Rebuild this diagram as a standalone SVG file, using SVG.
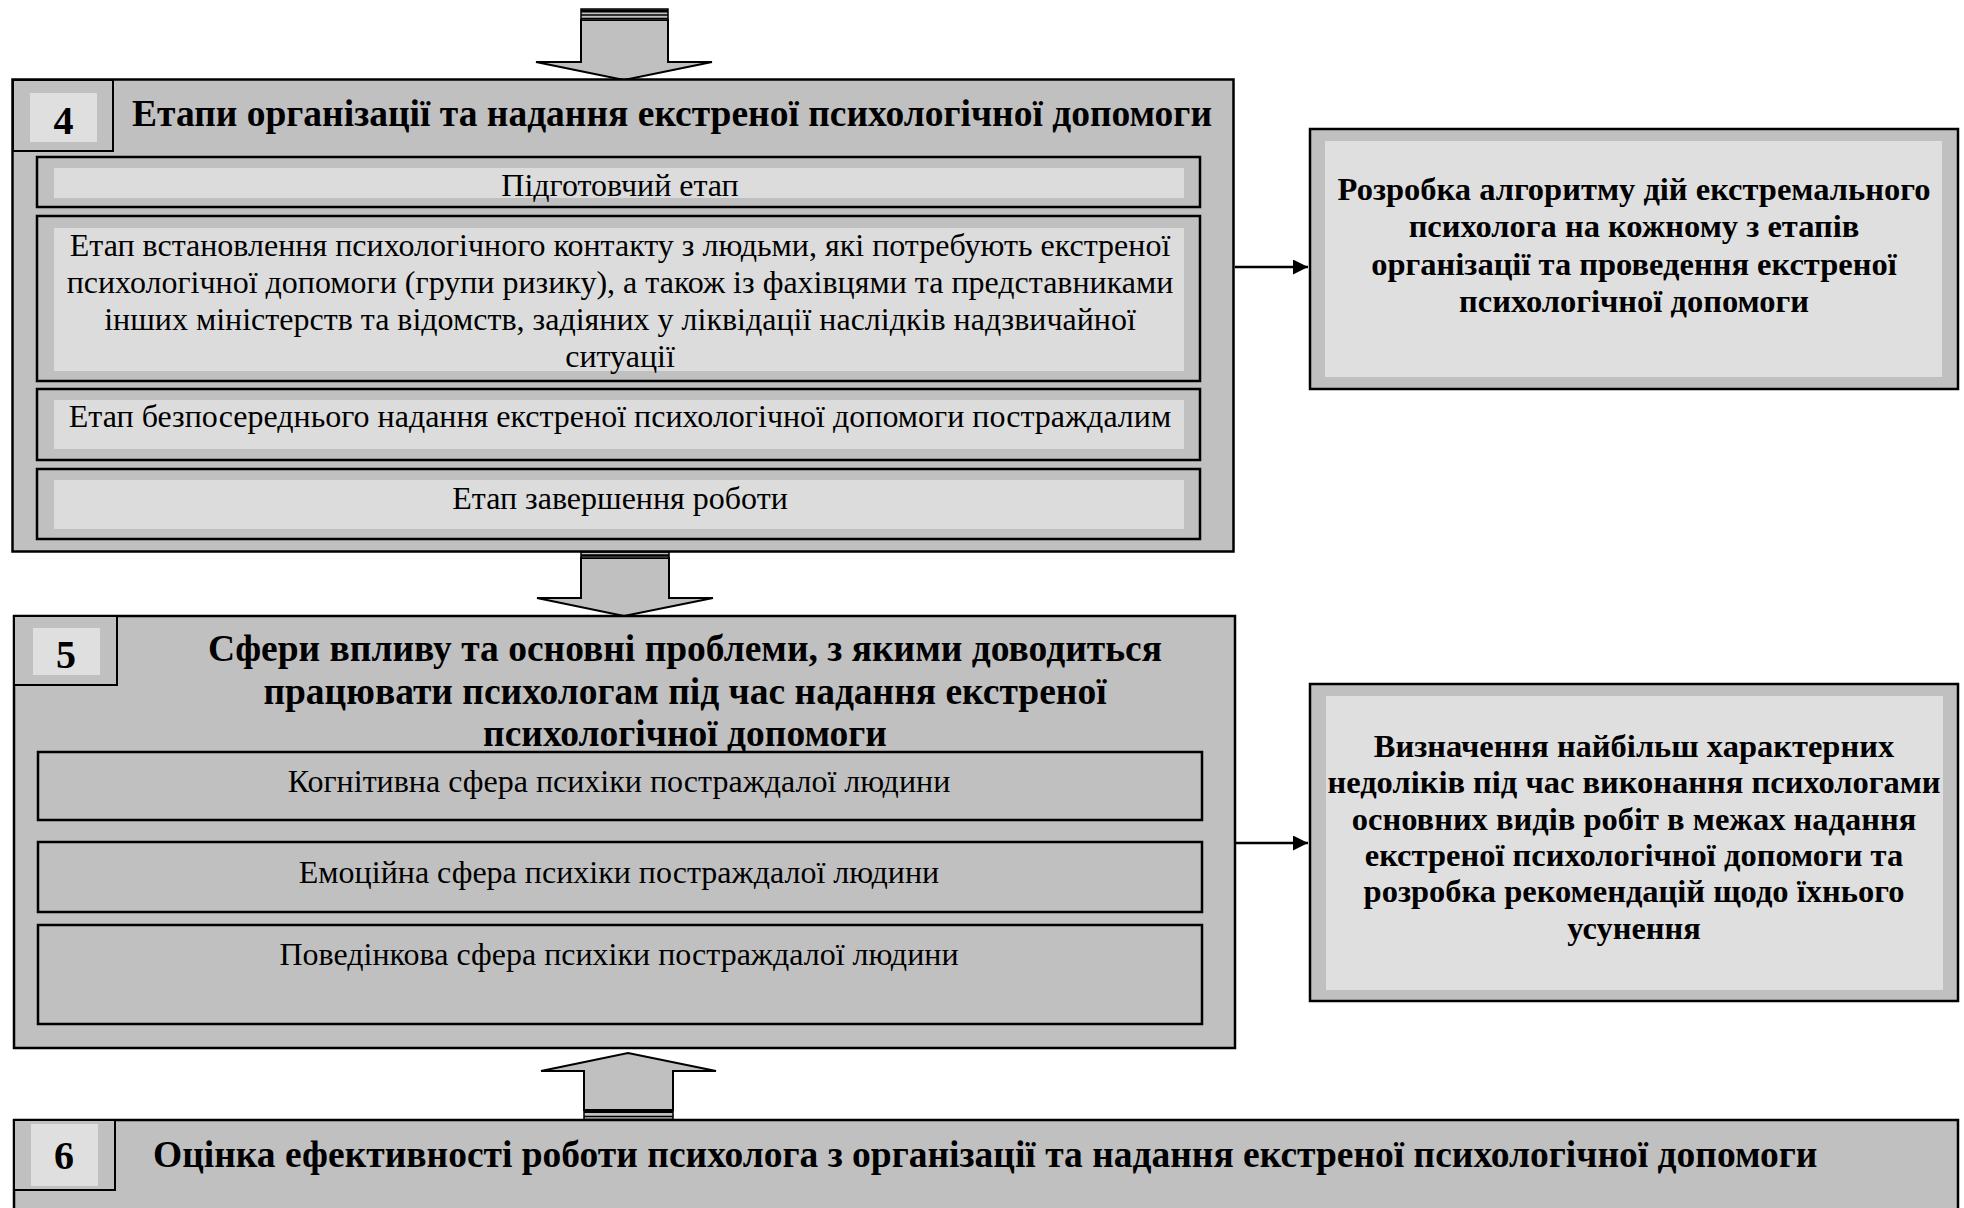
<svg xmlns="http://www.w3.org/2000/svg" width="1964" height="1208" viewBox="0 0 1964 1208">
<defs>
<style>
.bg{fill:#ffffff}
.panel{fill:#c0c0c0;stroke:#000;stroke-width:2.5}
.num{fill:#c0c0c0;stroke:#000;stroke-width:2}
.lite{fill:#dfdfdf;stroke:none}
.sub{fill:#c0c0c0;stroke:#000;stroke-width:2.5}
.sublite{fill:#dcdcdc;stroke:none}
.blk{fill:#c0c0c0;stroke:#000;stroke-width:2;stroke-linejoin:miter}
.stripe{stroke:#000;fill:none}
.t{font-family:"Liberation Serif","Times New Roman",serif;fill:#000}
.b{font-weight:bold}
.c{text-anchor:middle}
.h{font-size:37.5px}
.r{font-size:32px}
.rb{font-size:32.5px}
.n{font-size:40px;font-weight:bold;text-anchor:middle}
.link{stroke:#000;stroke-width:2.5;fill:none}
</style>
<marker id="ah" viewBox="0 0 10 10" refX="10" refY="5" markerWidth="6" markerHeight="6" markerUnits="strokeWidth" orient="auto">
<path d="M0,0 L10,5 L0,10 z" fill="#000"/>
</marker>
</defs>
<rect class="bg" x="0" y="0" width="1964" height="1208"/>

<g id="block-arrows">
<polygon class="blk" points="581,20 668,20 668,62 712,62 624,80 536,62 581,62"/>
<rect x="581" y="9" width="87" height="11" fill="#c0c0c0" stroke="#000" stroke-width="1.5"/>
<line class="stripe" x1="581" y1="11" x2="668" y2="11" stroke-width="3"/>
<line class="stripe" x1="581" y1="15" x2="668" y2="15" stroke-width="1.5"/>
<line class="stripe" x1="581" y1="18.5" x2="668" y2="18.5" stroke-width="1.5"/>

<polygon class="blk" points="581,558 669,558 669,598 713,598 624,616 537,598 581,598"/>
<rect x="581" y="552" width="88" height="6" fill="#c0c0c0" stroke="#000" stroke-width="1.5"/>
<line class="stripe" x1="581" y1="555.5" x2="669" y2="555.5" stroke-width="2.5"/>

<polygon class="blk" points="628,1053 716,1071 673,1071 673,1110 584,1110 584,1071 541,1071"/>
<rect x="584" y="1110" width="89" height="11" fill="#c0c0c0" stroke="#000" stroke-width="1.5"/>
<line class="stripe" x1="584" y1="1111.5" x2="673" y2="1111.5" stroke-width="3"/>
<line class="stripe" x1="584" y1="1116.5" x2="673" y2="1116.5" stroke-width="1.5"/>
<line class="stripe" x1="584" y1="1120" x2="673" y2="1120" stroke-width="2.5"/>
</g>

<g id="node-4">
<rect class="panel" x="12.5" y="79.5" width="1221" height="472"/>
<rect class="num" x="13" y="80" width="100" height="71"/>
<rect class="lite" x="30" y="93" width="67" height="49"/>
<text class="t n" x="63.5" y="134">4</text>
<text class="t b h" x="132" y="126">Етапи організації та надання екстреної психологічної допомоги</text>
<rect class="sub" x="37" y="157" width="1163" height="50"/>
<rect class="sublite" x="54" y="168" width="1130" height="30"/>
<text class="t r c" x="620" y="196">Підготовчий етап</text>
<rect class="sub" x="37" y="216" width="1163" height="165"/>
<rect class="sublite" x="54" y="228" width="1130" height="143"/>
<text class="t r c" x="620" y="256">Етап встановлення психологічного контакту з людьми, які потребують екстреної</text>
<text class="t r c" x="620" y="293">психологічної допомоги (групи ризику), а також із фахівцями та представниками</text>
<text class="t r c" x="620" y="330">інших міністерств та відомств, задіяних у ліквідації наслідків надзвичайної</text>
<text class="t r c" x="620" y="367">ситуації</text>
<rect class="sub" x="37" y="389" width="1163" height="71"/>
<rect class="sublite" x="54" y="400" width="1130" height="49"/>
<text class="t r c" x="620" y="427">Етап безпосереднього надання екстреної психологічної допомоги постраждалим</text>
<rect class="sub" x="37" y="469" width="1163" height="70"/>
<rect class="sublite" x="54" y="480" width="1130" height="49"/>
<text class="t r c" x="620" y="509">Етап завершення роботи</text>
</g>

<g id="node-4r">
<rect class="panel" x="1310" y="129" width="648" height="260"/>
<rect class="lite" x="1325" y="141" width="617" height="236"/>
<text class="t b rb c" x="1634" y="200">Розробка алгоритму дій екстремального</text>
<text class="t b rb c" x="1634" y="237">психолога на кожному з етапів</text>
<text class="t b rb c" x="1634" y="275">організації та проведення екстреної</text>
<text class="t b rb c" x="1634" y="312">психологічної допомоги</text>
</g>

<g id="node-5">
<rect class="panel" x="14" y="616" width="1221" height="432"/>
<rect class="num" x="14" y="616" width="103" height="69"/>
<rect class="lite" x="33" y="628" width="67" height="47"/>
<text class="t n" x="66" y="668">5</text>
<text class="t b h c" x="685" y="661">Сфери впливу та основні проблеми, з якими доводиться</text>
<text class="t b h c" x="685" y="704">працювати психологам під час надання екстреної</text>
<text class="t b h c" x="685" y="746">психологічної допомоги</text>
<rect class="sub" x="38" y="752" width="1164" height="68"/>
<text class="t r c" x="619" y="792">Когнітивна сфера психіки постраждалої людини</text>
<rect class="sub" x="38" y="842" width="1164" height="70"/>
<text class="t r c" x="619" y="883">Емоційна сфера психіки постраждалої людини</text>
<rect class="sub" x="38" y="925" width="1164" height="99"/>
<text class="t r c" x="619" y="965">Поведінкова сфера психіки постраждалої людини</text>
</g>

<g id="node-5r">
<rect class="panel" x="1310" y="684" width="648" height="317"/>
<rect class="lite" x="1326" y="696" width="617" height="294"/>
<text class="t b rb c" x="1634" y="757">Визначення найбільш характерних</text>
<text class="t b rb c" x="1634" y="793">недоліків під час виконання психологами</text>
<text class="t b rb c" x="1634" y="830">основних видів робіт в межах надання</text>
<text class="t b rb c" x="1634" y="866">екстреної психологічної допомоги та</text>
<text class="t b rb c" x="1634" y="902">розробка рекомендацій щодо їхнього</text>
<text class="t b rb c" x="1634" y="939">усунення</text>
</g>

<g id="node-6">
<rect class="panel" x="14" y="1120" width="1944" height="100"/>
<rect class="num" x="14" y="1120" width="101" height="70"/>
<rect class="lite" x="31" y="1124" width="67" height="62"/>
<text class="t n" x="64" y="1169">6</text>
<text class="t b h" x="153" y="1167">Оцінка ефективності роботи психолога з організації та надання екстреної психологічної допомоги</text>
</g>

<g id="connectors">
<line class="link" x1="1235" y1="267" x2="1308" y2="267" marker-end="url(#ah)"/>
<line class="link" x1="1235" y1="843" x2="1308" y2="843" marker-end="url(#ah)"/>
</g>
</svg>
